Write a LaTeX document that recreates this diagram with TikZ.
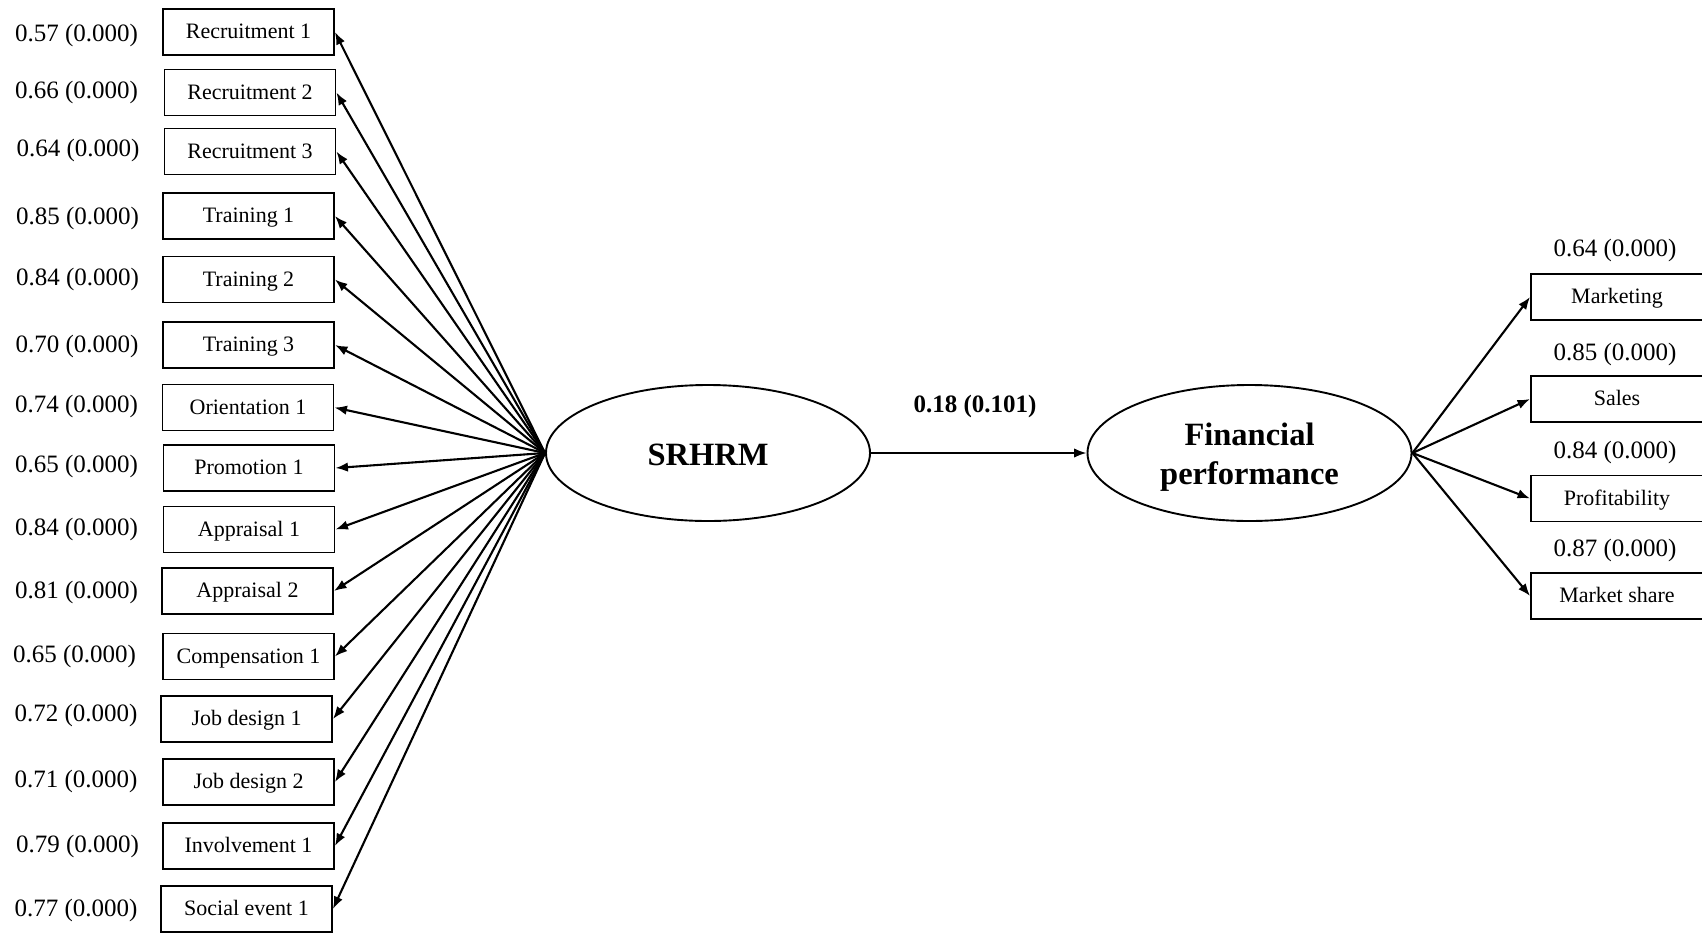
\documentclass[tikz,border=0pt]{standalone}
\usepackage{fontspec}
\setmainfont{Liberation Serif}
\usetikzlibrary{shapes.geometric,arrows.meta}
\begin{document}
\begin{tikzpicture}[x=1pt,y=-1pt,
  item/.style={draw,line width=1.9pt,minimum width=171pt,minimum height=46pt,inner sep=0pt,
    text height=13pt,text depth=0pt,font=\fontsize{22}{26}\selectfont},
  latent/.style={draw,ellipse,line width=1.9pt,minimum width=324pt,minimum height=136pt,
    inner sep=0pt},
  ctext/.style={align=center,inner sep=0pt,font=\fontsize{32.5}{39.5}\selectfont\bfseries},
  load/.style={font=\fontsize{25}{30}\selectfont,inner sep=0pt,yshift=-2.5pt},
  coef/.style={font=\fontsize{25}{30}\selectfont\bfseries,inner sep=0pt,yshift=-2.5pt},
  link/.style={line width=2.1pt,-{Latex[length=12.5pt,width=9.5pt]}}]
\useasboundingbox (0,0) rectangle (1702,932);

% latent constructs
\node[latent] (sr) at (708,453) {};
\node[ctext] (srt) at ([yshift=-2pt]sr.center) {SRHRM};
\node[latent] (fp) at (1249.5,453) {};
\node[ctext] (fpt) at ([yshift=-4pt]fp.center) {Financial\\performance};
\node[coef] (b) at (975,404) {0.18 (0.101)};

% SRHRM indicators
\node[item] (r1) at (248.5,32)  {Recruitment 1};
\node[item] (r2) at (250,92.5)  {Recruitment 2};
\node[item] (r3) at (250,151.5) {Recruitment 3};
\node[item] (t1) at (248.5,216) {Training 1};
\node[item] (t2) at (248.5,279.5) {Training 2};
\node[item] (t3) at (248.5,345) {Training 3};
\node[item] (o1) at (248,407.5) {Orientation 1};
\node[item] (p1) at (249,468)   {Promotion 1};
\node[item] (a1) at (249,529.5) {Appraisal 1};
\node[item] (a2) at (247.5,591) {Appraisal 2};
\node[item] (c1) at (248.5,656.5) {Compensation 1};
\node[item] (j1) at (246.5,719) {Job design 1};
\node[item] (j2) at (248.5,782) {Job design 2};
\node[item] (i1) at (248.5,846) {Involvement 1};
\node[item] (s1) at (246.5,909) {Social event 1};

% loadings of the SRHRM indicators
\node[load] (lr1) at (76.5,33)  {0.57 (0.000)};
\node[load] (lr2) at (76.5,90)  {0.66 (0.000)};
\node[load] (lr3) at (78,148)   {0.64 (0.000)};
\node[load] (lt1) at (77.5,216) {0.85 (0.000)};
\node[load] (lt2) at (77.5,277) {0.84 (0.000)};
\node[load] (lt3) at (77,344)   {0.70 (0.000)};
\node[load] (lo1) at (76.5,404) {0.74 (0.000)};
\node[load] (lp1) at (76.5,464) {0.65 (0.000)};
\node[load] (la1) at (76.5,527) {0.84 (0.000)};
\node[load] (la2) at (76.5,590) {0.81 (0.000)};
\node[load] (lc1) at (74.5,654) {0.65 (0.000)};
\node[load] (lj1) at (76,713)   {0.72 (0.000)};
\node[load] (lj2) at (76,779)   {0.71 (0.000)};
\node[load] (li1) at (77.5,844) {0.79 (0.000)};
\node[load] (ls1) at (76,908)   {0.77 (0.000)};

% financial performance indicators
\node[item,minimum width=172pt] (mk) at (1617,297)   {Marketing};
\node[item,minimum width=172pt] (sa) at (1617,399)   {Sales};
\node[item,minimum width=172pt] (pr) at (1617,498.5) {Profitability};
\node[item,minimum width=172pt] (ms) at (1617,596)   {Market share};

\node[load] (lmk) at (1615,248) {0.64 (0.000)};
\node[load] (lsa) at (1615,352) {0.85 (0.000)};
\node[load] (lpr) at (1615,450) {0.84 (0.000)};
\node[load] (lms) at (1615,548) {0.87 (0.000)};

% paths
\foreach \n in {r1,r2,r3,t1,t2,t3,o1,p1,a1,a2,c1,j1,j2,i1,s1}
  \draw[link] (sr.west) -- (\n.east);
\draw[link] (sr.east) -- (fp.west);
\foreach \n in {mk,sa,pr,ms}
  \draw[link] (fp.east) -- (\n.west);
\end{tikzpicture}
\end{document}
